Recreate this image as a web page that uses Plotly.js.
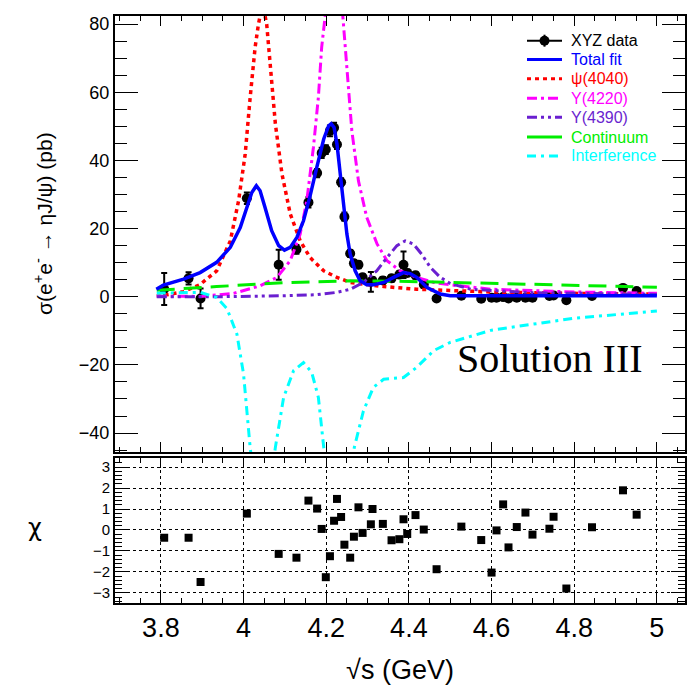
<!DOCTYPE html>
<html>
<head>
<meta charset="utf-8">
<script src="https://cdn.plot.ly/plotly-3.0.1.min.js"></script>
<style>html,body{margin:0;padding:0;background:#fff;}#plot{width:692px;height:693px;}</style>
</head>
<body>
<div id="plot"></div>
<script>
// ---- data points (XYZ data) ----
var energies = [3.808, 3.867, 3.896, 4.008, 4.085, 4.128, 4.157, 4.178, 4.189, 4.199, 4.209, 4.219, 4.226, 4.236, 4.244, 4.258, 4.267, 4.278, 4.288, 4.308, 4.312, 4.337, 4.358, 4.377, 4.387, 4.396, 4.416, 4.436, 4.467, 4.527, 4.575, 4.600, 4.612, 4.628, 4.641, 4.661, 4.682, 4.699, 4.740, 4.750, 4.781, 4.843, 4.918, 4.951];
var xsec = [2.3, 5.4, -0.5, 28.9, 9.4, 13.9, 27.7, 36.3, 42.2, 43.2, 48.7, 49.6, 44.7, 33.6, 23.5, 12.7, 9.8, 9.4, 5.7, 4.4, 4.7, 4.8, 5.4, 6.5, 9.4, 7.0, 6.3, 3.6, -0.5, 0.3, -0.6, -0.3, -0.3, -0.1, -0.5, -0.3, -0.3, -0.3, 0.2, 0.4, -1.0, 0.2, 2.6, 1.7];
var xsecErr = [4.7, 1.8, 2.9, 1.7, 4.4, 1.3, 1.5, 1.2, 1.5, 1.3, 1.6, 1.5, 1.3, 1.2, 1.2, 1.0, 1.0, 1.0, 1.0, 2.9, 1.0, 1.0, 1.0, 1.0, 3.9, 1.0, 1.0, 1.0, 0.6, 0.6, 0.6, 0.6, 0.6, 0.6, 0.6, 0.6, 0.6, 0.6, 0.6, 0.6, 0.6, 0.6, 0.8, 0.8];
var chi = [-0.37, -0.37, -2.48, 0.78, -1.14, -1.32, 1.40, 1.02, 0.05, -2.25, -1.25, 0.44, 1.48, 0.62, -0.70, -1.32, -0.32, 1.08, -0.14, 0.27, 1.00, 0.29, -0.49, -0.44, 0.51, -0.19, 0.71, 0.02, -1.87, 0.16, -0.48, -2.03, -0.02, 1.22, -0.83, 0.14, 0.83, -0.22, 0.06, 0.63, -2.79, 0.13, 1.89, 0.73];

// ---- fit curves ----
var totalX = [3.789, 3.806, 3.855, 3.895, 3.935, 3.968, 3.992, 4.008, 4.020, 4.031, 4.040, 4.052, 4.068, 4.085, 4.099, 4.113, 4.129, 4.145, 4.161, 4.177, 4.194, 4.206, 4.212, 4.219, 4.226, 4.234, 4.242, 4.250, 4.258, 4.270, 4.282, 4.298, 4.314, 4.339, 4.363, 4.387, 4.403, 4.419, 4.444, 4.476, 4.500, 4.600, 4.700, 4.800, 4.900, 5.000];
var totalY = [2.2, 3.4, 5.2, 7.1, 10.1, 14.5, 20.3, 26.2, 30.6, 32.6, 31.1, 26.2, 19.4, 15.0, 13.7, 14.5, 17.4, 22.3, 29.6, 37.9, 46.3, 50.2, 50.8, 49.7, 44.8, 36.0, 26.2, 18.4, 12.5, 7.6, 4.7, 3.5, 3.5, 4.2, 5.7, 7.1, 6.8, 5.7, 2.7, 0.8, 0.3, 0.3, 0.3, 0.3, 0.3, 0.3];
var psiX = [3.790, 3.806, 3.855, 3.895, 3.935, 3.968, 3.988, 4.004, 4.016, 4.028, 4.036, 4.046, 4.056, 4.064, 4.077, 4.093, 4.113, 4.137, 4.161, 4.194, 4.226, 4.258, 4.298, 4.339, 4.419, 4.500, 4.600, 4.800, 5.000];
var psiY = [0.2, 0.4, 1.5, 3.6, 7.6, 16.4, 28.2, 41.9, 58.5, 73.2, 80.0, 86.0, 80.0, 68.3, 50.7, 36.0, 24.3, 16.4, 11.5, 7.6, 5.7, 4.2, 3.5, 3.0, 2.2, 1.8, 1.4, 1.0, 0.8];
var y4220X = [3.790, 3.895, 3.976, 4.040, 4.081, 4.113, 4.137, 4.153, 4.169, 4.181, 4.189, 4.198, 4.219, 4.240, 4.250, 4.262, 4.278, 4.298, 4.323, 4.347, 4.379, 4.419, 4.460, 4.500, 4.600, 4.800, 5.000];
var y4220Y = [0.2, 0.1, 1.0, 3.2, 5.7, 10.6, 18.4, 28.2, 43.8, 58.5, 73.2, 83.0, 115.0, 83.0, 68.3, 48.7, 34.0, 23.3, 15.5, 10.6, 7.6, 5.7, 4.2, 3.5, 2.2, 1.4, 1.0];
var y4390X = [3.790, 3.935, 4.097, 4.177, 4.226, 4.258, 4.290, 4.322, 4.347, 4.371, 4.391, 4.411, 4.431, 4.452, 4.476, 4.500, 4.550, 4.700, 5.000];
var y4390Y = [0.0, 0.0, 0.3, 0.6, 1.3, 2.2, 4.2, 7.6, 11.5, 15.0, 16.4, 15.5, 12.5, 8.6, 5.7, 3.9, 2.2, 1.2, 0.7];
var contX = [3.790, 3.855, 3.935, 4.097, 4.177, 4.258, 4.400, 4.500, 4.600, 4.800, 5.000];
var contY = [1.9, 2.3, 3.0, 4.1, 4.4, 4.7, 4.5, 4.2, 4.0, 3.4, 2.8];
var interfX = [3.790, 3.806, 3.895, 3.935, 3.960, 3.984, 4.000, 4.016, 4.030, 4.047, 4.062, 4.077, 4.097, 4.121, 4.145, 4.165, 4.181, 4.194, 4.210, 4.230, 4.250, 4.268, 4.290, 4.314, 4.339, 4.387, 4.419, 4.460, 4.500, 4.600, 4.800, 5.000];
var interfY = [1.0, 1.1, 1.3, -0.2, -3.5, -11.0, -22.7, -44.2, -58.0, -64.0, -58.0, -44.2, -29.5, -21.7, -19.3, -22.2, -29.5, -44.2, -58.0, -64.0, -58.0, -44.2, -33.5, -26.6, -24.2, -23.7, -20.7, -15.8, -13.4, -9.8, -6.3, -4.2];

var names = ['XYZ data', 'Total fit', 'ψ(4040)', 'Y(4220)', 'Y(4390)', 'Continuum', 'Interference'];
var colors = ['#000000', '#0000ff', '#ff0000', '#ff00ff', '#6a1fd0', '#00ee00', '#00ffff'];
var dashes = ['solid', 'solid', '4px,4px', '10px,4px,3px,4px', '10px,4px,3px,4px,3px,4px', '18px,9px', '9px,5px,3px,5px'];
var widths = [2, 3.5, 3.5, 3, 3, 3, 3];

var FONT = 'Liberation Sans, Arial, Helvetica, sans-serif';

var traces = [
  {x: energies, y: xsec, type: 'scatter', mode: 'markers', xaxis: 'x', yaxis: 'y',
   marker: {color: 'black', size: 10, symbol: 'circle'},
   error_y: {type: 'data', array: xsecErr, visible: true, color: 'black', thickness: 2, width: 3}},
  {x: psiX, y: psiY, type: 'scatter', mode: 'lines', xaxis: 'x', yaxis: 'y',
   line: {color: colors[2], width: widths[2], dash: dashes[2]}},
  {x: y4220X, y: y4220Y, type: 'scatter', mode: 'lines', xaxis: 'x', yaxis: 'y',
   line: {color: colors[3], width: widths[3], dash: dashes[3]}},
  {x: y4390X, y: y4390Y, type: 'scatter', mode: 'lines', xaxis: 'x', yaxis: 'y',
   line: {color: colors[4], width: widths[4], dash: dashes[4]}},
  {x: contX, y: contY, type: 'scatter', mode: 'lines', xaxis: 'x', yaxis: 'y',
   line: {color: colors[5], width: widths[5], dash: dashes[5]}},
  {x: interfX, y: interfY, type: 'scatter', mode: 'lines', xaxis: 'x', yaxis: 'y',
   line: {color: colors[6], width: widths[6], dash: dashes[6]}},
  {x: totalX, y: totalY, type: 'scatter', mode: 'lines', xaxis: 'x', yaxis: 'y',
   line: {color: colors[1], width: widths[1]}},
  {x: energies, y: chi, type: 'scatter', mode: 'markers', xaxis: 'x2', yaxis: 'y2',
   marker: {color: 'black', size: 8, symbol: 'square'}}
];

// ---- custom legend (pixel layout converted to paper coords) ----
var PW = 570, PH = 587, L = 115, B = 603;
function px(x) { return (x - L) / PW; }
function py(y) { return (B - y) / PH; }
var shapes = [], annotations = [];
var rowY = [40.7, 59.5, 78.8, 98.2, 117.2, 137.0, 156.0];
for (var i = 0; i < names.length; i++) {
  shapes.push({type: 'line', xref: 'paper', yref: 'paper', x0: px(527), x1: px(562), y0: py(rowY[i]), y1: py(rowY[i]),
               line: {color: colors[i], width: i === 0 ? 2 : 3, dash: i === 5 ? 'solid' : dashes[i]}});
  annotations.push({text: names[i], xref: 'paper', yref: 'paper', x: px(569), y: py(rowY[i]), xanchor: 'left', yanchor: 'middle',
                    showarrow: false, font: {family: FONT, size: 16, color: colors[i]}});
}
shapes.push({type: 'line', xref: 'paper', yref: 'paper', x0: px(544.5), x1: px(544.5), y0: py(rowY[0] - 6), y1: py(rowY[0] + 6),
             line: {color: 'black', width: 2}});
shapes.push({type: 'circle', xref: 'paper', yref: 'paper', x0: px(539.5), x1: px(549.5), y0: py(rowY[0] - 5), y1: py(rowY[0] + 5),
             fillcolor: 'black', line: {color: 'black', width: 0}});

annotations.push(
  {text: 'σ(e<sup>+</sup>e<sup>-</sup> → ηJ/ψ) (pb)', xref: 'paper', yref: 'paper',
   x: px(43), y: py(224), xanchor: 'center', yanchor: 'middle', textangle: -90, showarrow: false,
   font: {family: FONT, size: 21, color: 'black'}},
  {text: 'χ', xref: 'paper', yref: 'paper', x: px(35), y: py(528), xanchor: 'center', yanchor: 'middle',
   showarrow: false, font: {family: 'DejaVu Sans, sans-serif', size: 24, color: 'black'}},
  {text: 'Solution III', xref: 'paper', yref: 'paper', x: px(645), y: py(358), xanchor: 'right', yanchor: 'middle',
   showarrow: false, font: {family: 'Liberation Serif, Times New Roman, serif', size: 40, color: 'black'}}
);

var xr = [3.689, 5.068];
var layout = {
  width: 692, height: 693,
  margin: {l: 115, r: 7, t: 16, b: 90, pad: 0},
  paper_bgcolor: 'white', plot_bgcolor: 'white',
  font: {family: FONT, color: 'black'},
  showlegend: false,
  xaxis: {domain: [0, 1], anchor: 'y', range: xr, showticklabels: false, tick0: 3.8, dtick: 0.2,
          ticks: 'inside', ticklen: 10, tickwidth: 1, tickcolor: 'black',
          minor: {ticks: 'inside', ticklen: 5, dtick: 0.05, tick0: 3.8, tickcolor: 'black'},
          showline: true, linewidth: 2, linecolor: 'black', mirror: 'allticks',
          showgrid: false, zeroline: false},
  yaxis: {domain: [0.257, 1], anchor: 'x', range: [-45.6, 82.4], dtick: 20, tick0: 0,
          ticks: 'inside', ticklen: 23, tickwidth: 1, tickcolor: 'black',
          minor: {ticks: 'inside', ticklen: 12, dtick: 5, tick0: 0, tickcolor: 'black'},
          tickfont: {family: FONT, size: 18, color: 'black'},
          showline: true, linewidth: 2, linecolor: 'black', mirror: 'allticks',
          showgrid: false, zeroline: false},
  xaxis2: {domain: [0, 1], anchor: 'y2', range: xr, tick0: 3.8, dtick: 0.2,
           ticks: 'inside', ticklen: 10, tickwidth: 1, tickcolor: 'black',
           minor: {ticks: 'inside', ticklen: 5, dtick: 0.05, tick0: 3.8, tickcolor: 'black'},
           tickfont: {family: FONT, size: 27, color: 'black'},
           showline: true, linewidth: 2, linecolor: 'black', mirror: 'allticks',
           showgrid: true, gridcolor: 'black', gridwidth: 1, griddash: 'dot', zeroline: false,
           title: {text: '√s (GeV)', font: {family: FONT, size: 27, color: 'black'}, standoff: 18}},
  yaxis2: {domain: [0, 0.247], anchor: 'x2', range: [-3.48, 3.43], dtick: 1, tick0: 0,
           ticks: 'inside', ticklen: 14, tickwidth: 1, tickcolor: 'black',
           minor: {ticks: 'inside', ticklen: 7, dtick: 0.2, tick0: 0, tickcolor: 'black'},
           tickfont: {family: FONT, size: 15, color: 'black'},
           showline: true, linewidth: 2, linecolor: 'black', mirror: 'allticks',
           showgrid: true, gridcolor: 'black', gridwidth: 1, griddash: 'dot', zeroline: false},
  shapes: shapes,
  annotations: annotations
};

Plotly.newPlot('plot', traces, layout, {displayModeBar: false, staticPlot: true});
</script>
</body>
</html>
